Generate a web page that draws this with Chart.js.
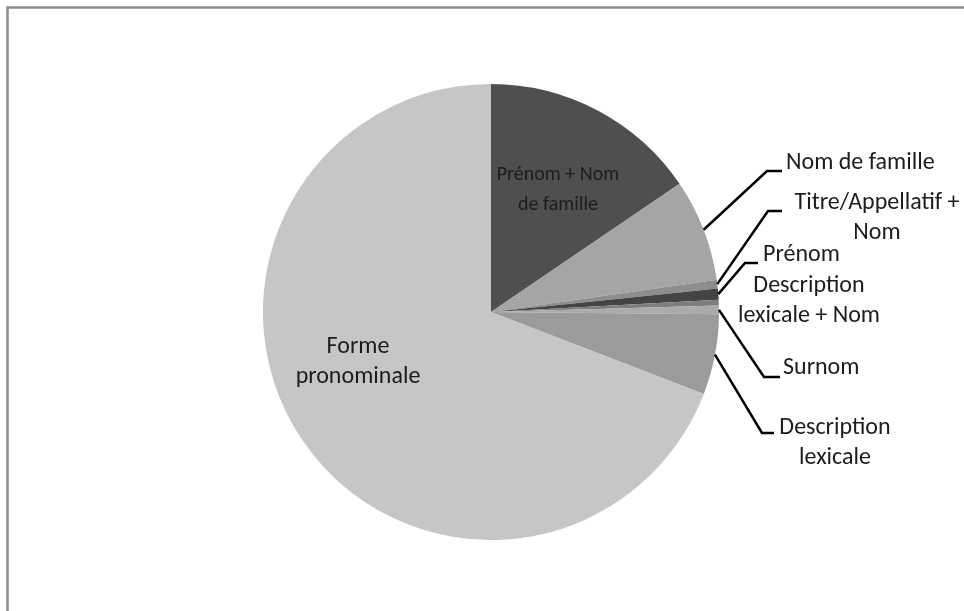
<!DOCTYPE html>
<html>
<head>
<meta charset="utf-8">
<script src="https://cdn.jsdelivr.net/npm/chart.js@4"></script>
<style>
  html, body { margin: 0; padding: 0; background: #fff; }
  #wrap { position: relative; width: 964px; height: 611px; }
</style>
</head>
<body>
<div id="wrap"><canvas id="chart_pie"></canvas></div>
<script>
// categories, clockwise from 12 o'clock
var categories = [
  'Prénom + Nom de famille',
  'Nom de famille',
  'Titre/Appellatif + Nom',
  'Prénom',
  'Description lexicale + Nom',
  'Surnom',
  'Description lexicale',
  'Forme pronominale'
];
// share of each form, in percent
var shares = [15.5, 7.25, 0.6, 0.8, 0.4, 0.6, 5.7, 69.15];
// label text, one entry per line
var labelLines = [
  ['Prénom + Nom', 'de famille'],
  ['Nom de famille'],
  ['Titre/Appellatif +', 'Nom'],
  ['Prénom'],
  ['Description', 'lexicale + Nom'],
  ['Surnom'],
  ['Description', 'lexicale'],
  ['Forme', 'pronominale']
];

var sliceColors = ['#4f4f4f', '#a5a5a5', '#8e8e8e', '#444444', '#7d7d7d', '#ababab', '#9b9b9b', '#c6c6c6'];

// label placement relative to the pie centre: text centre (tx, first line ty),
// and for outside labels the leader elbow (ex, ey) and end (lx)
var labelLayout = [
  { tx: 67, ty: -137, size: 20 },
  { tx: 295, ty: -149, align: 'left', ex: 276, ey: -141, lx: 291 },
  { tx: 386, ty: -109, ex: 277, ey: -101, lx: 291 },
  { tx: 272, ty: -57, align: 'left', ex: 254, ey: -49, lx: 267 },
  { tx: 318, ty: -26 },
  { tx: 292, ty: 56, align: 'left', ex: 273, ey: 65, lx: 289 },
  { tx: 344, ty: 116, ex: 271, ey: 121, lx: 283 },
  { tx: -133, ty: 35 }
];
var lineGap = 30;

var frameAndLabels = {
  id: 'frameAndLabels',
  beforeDraw: function (chart) {
    var ctx = chart.ctx;
    ctx.save();
    ctx.fillStyle = '#ffffff';
    ctx.fillRect(0, 0, chart.width, chart.height);
    ctx.strokeStyle = '#8a8a8a';
    ctx.lineWidth = 2.5;
    ctx.strokeRect(7.5, 7.5, chart.width + 20, chart.height + 20);
    ctx.restore();
  },
  afterDraw: function (chart) {
    var ctx = chart.ctx;
    var arcs = chart.getDatasetMeta(0).data;
    ctx.save();
    ctx.fillStyle = '#1c1c1c';
    ctx.textBaseline = 'middle';
    arcs.forEach(function (arc, i) {
      var p = arc.getProps(['x', 'y', 'startAngle', 'endAngle', 'outerRadius'], true);
      var lay = labelLayout[i];
      if (lay.ex !== undefined) {
        var mid = (p.startAngle + p.endAngle) / 2;
        ctx.beginPath();
        ctx.strokeStyle = '#000000';
        ctx.lineWidth = 2.5;
        ctx.moveTo(p.x + Math.cos(mid) * p.outerRadius, p.y + Math.sin(mid) * p.outerRadius);
        ctx.lineTo(p.x + lay.ex, p.y + lay.ey);
        ctx.lineTo(p.x + lay.lx, p.y + lay.ey);
        ctx.stroke();
      }
      ctx.font = (lay.size || 24) + 'px Carlito, Calibri, Lato, sans-serif';
      ctx.textAlign = lay.align || 'center';
      labelLines[i].forEach(function (t, k) {
        ctx.fillText(t, p.x + lay.tx, p.y + lay.ty + k * lineGap);
      });
    });
    ctx.restore();
  }
};

var chart_pie = new Chart(document.getElementById('chart_pie'), {
  type: 'pie',
  data: {
    labels: categories,
    datasets: [{
      data: shares,
      backgroundColor: sliceColors,
      borderWidth: 0
    }]
  },
  options: {
    animation: false,
    responsive: true,
    maintainAspectRatio: false,
    layout: {
      padding: { top: 84, bottom: 71, left: 263, right: 245 }
    },
    plugins: {
      legend: { display: false },
      tooltip: { enabled: false }
    }
  },
  plugins: [frameAndLabels]
});
</script>
</body>
</html>
